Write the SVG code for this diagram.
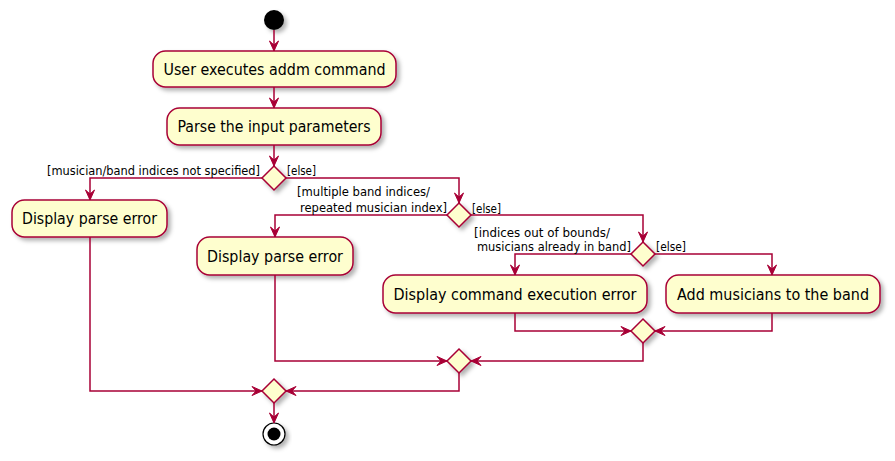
<svg xmlns="http://www.w3.org/2000/svg" width="895" height="461" viewBox="0 0 895 461">
<style>
.act{fill:#FEFECE;stroke:#A80036;stroke-width:1.5;filter:url(#sh)}
.dia{fill:#FEFECE;stroke:#A80036;stroke-width:1.5;filter:url(#sh)}
.t{font-family:"DejaVu Sans",sans-serif;font-size:15px;fill:#000;text-anchor:middle}
.l{font-family:"DejaVu Sans",sans-serif;font-size:12px;fill:#000}
.c path{fill:none;stroke:#A80036;stroke-width:1.5;marker-end:url(#arr)}
</style>
<defs>
<filter id="sh" x="-20%" y="-30%" width="150%" height="170%">
<feDropShadow dx="3" dy="3" stdDeviation="2" flood-color="#000" flood-opacity="0.3"/>
</filter>
<marker id="arr" viewBox="-11 -5 12 10" refX="0" refY="0" markerWidth="12" markerHeight="10" orient="auto" markerUnits="userSpaceOnUse">
<path d="M0,0 L-10,-4.5 L-6,0 L-10,4.5 Z" fill="#A80036" stroke="#A80036" stroke-width="1"/>
</marker>
</defs>
<rect width="895" height="461" fill="#fff"/>
<g id="start"><circle cx="274" cy="20" r="10" fill="#000" filter="url(#sh)"/></g>
<g id="n1"><rect class="act" x="153" y="51" width="243" height="36" rx="12.5"/><text class="t" x="274.5" y="74.5" textLength="222" lengthAdjust="spacingAndGlyphs">User executes addm command</text></g>
<g id="n2"><rect class="act" x="167" y="108" width="214" height="37" rx="12.5"/><text class="t" x="274" y="132" textLength="193" lengthAdjust="spacingAndGlyphs">Parse the input parameters</text></g>
<g id="d1"><polygon class="dia" points="274,166 286,178 274,190 262,178"/></g>
<g id="n3"><rect class="act" x="12" y="200" width="155" height="37" rx="12.5"/><text class="t" x="89.5" y="223.5" textLength="135" lengthAdjust="spacingAndGlyphs">Display parse error</text></g>
<g id="d2"><polygon class="dia" points="459,203 471,215 459,227 447,215"/></g>
<g id="n4"><rect class="act" x="197" y="237" width="156" height="38" rx="12.5"/><text class="t" x="275" y="261.5" textLength="136" lengthAdjust="spacingAndGlyphs">Display parse error</text></g>
<g id="d3"><polygon class="dia" points="643,242 655,254 643,266 631,254"/></g>
<g id="n5"><rect class="act" x="383" y="275" width="264" height="38" rx="12.5"/><text class="t" x="515" y="299.5" textLength="243" lengthAdjust="spacingAndGlyphs">Display command execution error</text></g>
<g id="n6"><rect class="act" x="666" y="275" width="214" height="38" rx="12.5"/><text class="t" x="773" y="299.5" textLength="192" lengthAdjust="spacingAndGlyphs">Add musicians to the band</text></g>
<g id="d4"><polygon class="dia" points="643,319 655,331 643,343 631,331"/></g>
<g id="d5"><polygon class="dia" points="459,349 471,361 459,373 447,361"/></g>
<g id="d6"><polygon class="dia" points="274,379 286,391 274,403 262,391"/></g>
<g id="end"><circle cx="274" cy="434" r="11" fill="#fff" stroke="#000" stroke-width="1.2" filter="url(#sh)"/><circle cx="274" cy="434" r="6.5" fill="#000"/></g>
<g id="connectors" class="c">
<path d="M274,30 V51"/>
<path d="M274,87 V108"/>
<path d="M274,145 V166"/>
<path d="M262,178 H90 V200"/>
<path d="M286,178 H459 V203"/>
<path d="M447,215 H275 V237"/>
<path d="M471,215 H643 V242"/>
<path d="M631,254 H515 V275"/>
<path d="M655,254 H772 V275"/>
<path d="M515,313 V331 H631"/>
<path d="M772,313 V331 H655"/>
<path d="M275,275 V361 H447"/>
<path d="M643,343 V361 H471"/>
<path d="M90,237 V391 H262"/>
<path d="M459,373 V391 H286"/>
<path d="M274,403 V423"/>
</g>
<g id="labels">
<text class="l" x="47" y="175" textLength="213" lengthAdjust="spacingAndGlyphs">[musician/band indices not specified]</text>
<text class="l" x="287" y="175" textLength="29" lengthAdjust="spacingAndGlyphs">[else]</text>
<text class="l" x="297" y="196" textLength="133" lengthAdjust="spacingAndGlyphs">[multiple band indices/</text>
<text class="l" x="300" y="212" textLength="147" lengthAdjust="spacingAndGlyphs">repeated musician index]</text>
<text class="l" x="472" y="213" textLength="29" lengthAdjust="spacingAndGlyphs">[else]</text>
<text class="l" x="474" y="237" textLength="136" lengthAdjust="spacingAndGlyphs">[indices out of bounds/</text>
<text class="l" x="477" y="251" textLength="154" lengthAdjust="spacingAndGlyphs">musicians already in band]</text>
<text class="l" x="656" y="251" textLength="30" lengthAdjust="spacingAndGlyphs">[else]</text>
</g>
</svg>
